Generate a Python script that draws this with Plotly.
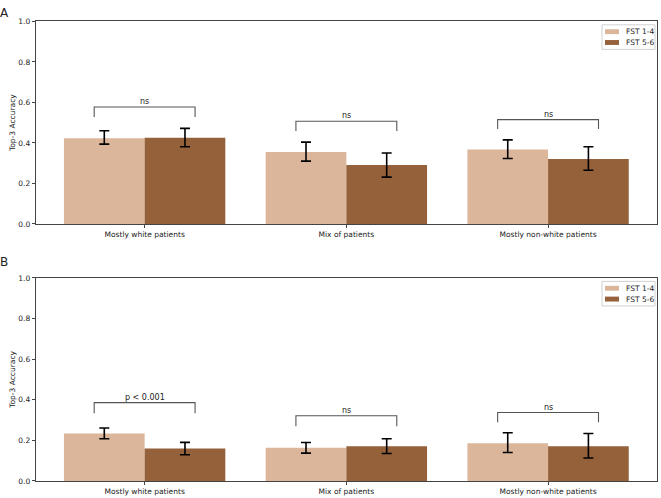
import plotly.graph_objects as go

categories = ["Mostly white patients", "Mix of patients", "Mostly non-white patients"]
series_names = ["FST 1-4", "FST 5-6"]

# Panel A
a_fst14 = [0.423, 0.355, 0.367]
a_fst14_hi = [0.460, 0.404, 0.415]
a_fst14_lo = [0.394, 0.310, 0.323]
a_fst56 = [0.425, 0.291, 0.321]
a_fst56_hi = [0.472, 0.350, 0.381]
a_fst56_lo = [0.381, 0.231, 0.265]
a_sig = ["ns", "ns", "ns"]
a_br_top = [0.577, 0.507, 0.515]
a_br_leg = [0.528, 0.459, 0.469]

# Panel B
b_fst14 = [0.234, 0.163, 0.186]
b_fst14_hi = [0.261, 0.189, 0.237]
b_fst14_lo = [0.208, 0.137, 0.140]
b_fst56 = [0.160, 0.171, 0.171]
b_fst56_hi = [0.190, 0.208, 0.234]
b_fst56_lo = [0.129, 0.135, 0.113]
b_sig = ["p < 0.001", "ns", "ns"]
b_br_top = [0.386, 0.321, 0.337]
b_br_leg = [0.334, 0.269, 0.289]

yticks = [0.0, 0.2, 0.4, 0.6, 0.8, 1.0]
colors = ["#dbb69a", "#95613b"]
FONT = "DejaVu Sans"

W, H = 661, 498
def py(px):
    return 1 - px / H
def pxx(px):
    return px / W

fig = go.Figure()

panels = [
    ("x", "y", [(a_fst14, a_fst14_hi, a_fst14_lo), (a_fst56, a_fst56_hi, a_fst56_lo)], a_sig, a_br_top, a_br_leg, 17.7),
    ("x2", "y2", [(b_fst14, b_fst14_hi, b_fst14_lo), (b_fst56, b_fst56_hi, b_fst56_lo)], b_sig, b_br_top, b_br_leg, 279),
]

shapes = []
annotations = []
for xa, ya, series, sig, btop, bleg, top_px in panels:
    for k, (vals, hi, lo) in enumerate(series):
        fig.add_trace(go.Bar(
            x=categories, y=vals, name=series_names[k], xaxis=xa, yaxis=ya,
            marker=dict(color=colors[k], line=dict(width=0)),
            offsetgroup=str(k), showlegend=False, hoverinfo="skip",
            error_y=dict(type="data", symmetric=False,
                         array=[h - v for h, v in zip(hi, vals)],
                         arrayminus=[v - l for v, l in zip(vals, lo)],
                         color="black", thickness=1.6, width=5),
        ))
    for i in range(len(categories)):
        path = f"M {i-0.25},{bleg[i]} L {i-0.25},{btop[i]} L {i+0.25},{btop[i]} L {i+0.25},{bleg[i]}"
        shapes.append(dict(type="path", path=path, xref=xa, yref=ya,
                           line=dict(color="#555555", width=1.1)))
        annotations.append(dict(x=i, y=btop[i], xref=xa, yref=ya, text=sig[i],
                                showarrow=False, yanchor="bottom", yshift=-1,
                                font=dict(size=8, color="#222", family=FONT)))
    # hand-drawn legend box (matplotlib style)
    lx0, lx1 = 602, 655
    ly0 = top_px + 3.5
    ly1 = ly0 + 25
    shapes.append(dict(type="rect", xref="paper", yref="paper",
                       x0=pxx(lx0), x1=pxx(lx1), y0=py(ly1), y1=py(ly0),
                       line=dict(color="#d0d0d0", width=1), fillcolor="rgba(255,255,255,0.8)"))
    for k, name in enumerate(series_names):
        cy = ly0 + 7 + k * 11
        shapes.append(dict(type="rect", xref="paper", yref="paper",
                           x0=pxx(605), x1=pxx(619), y0=py(cy + 2.5), y1=py(cy - 2.5),
                           line=dict(width=0), fillcolor=colors[k]))
        annotations.append(dict(x=pxx(624), y=py(cy), xref="paper", yref="paper",
                                text=name, showarrow=False, xanchor="left", yanchor="middle",
                                font=dict(size=7.5, color="#222", family=FONT)))

annotations.append(dict(x=pxx(-2), y=py(0), xref="paper", yref="paper", text="A",
                        showarrow=False, xanchor="left", yanchor="top",
                        font=dict(size=12, color="#222", family=FONT)))
annotations.append(dict(x=pxx(-2), y=py(254), xref="paper", yref="paper", text="B",
                        showarrow=False, xanchor="left", yanchor="top",
                        font=dict(size=12, color="#222", family=FONT)))

xdom = [35.7 / W, 657 / W]
axis_common = dict(showline=True, mirror=True, linecolor="#444444", linewidth=1,
                   showgrid=False, zeroline=False, ticks="outside", ticklen=3,
                   tickcolor="#444444", tickfont=dict(size=7.5, family=FONT, color="#222"))

yax = dict(axis_common, range=[0, 1], tickvals=yticks, tickformat=".1f",
           title=dict(text="Top-3 Accuracy", font=dict(size=7.5, family=FONT, color="#222"), standoff=1))
xax = dict(axis_common, type="category", range=[-0.54, 2.54])

fig.update_layout(
    width=W, height=H, margin=dict(l=0, r=0, t=0, b=0),
    paper_bgcolor="white", plot_bgcolor="white",
    barmode="group", bargap=0.2, bargroupgap=0,
    xaxis=dict(xax, domain=xdom, anchor="y"),
    yaxis=dict(yax, domain=[py(224), py(17.7)], anchor="x"),
    xaxis2=dict(xax, domain=xdom, anchor="y2"),
    yaxis2=dict(yax, domain=[py(485.7), py(279)], anchor="x2"),
    showlegend=False, hovermode=False,
    shapes=shapes, annotations=annotations,
    font=dict(family=FONT),
)

fig.write_html("out.html", config={"displayModeBar": False},
               post_script="document.body.style.margin='0px';document.body.style.overflow='hidden';")
